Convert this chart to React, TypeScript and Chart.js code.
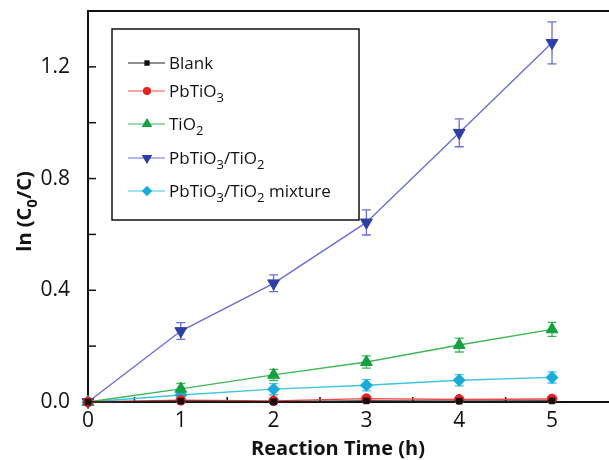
import React, { useEffect, useRef } from 'react';
import { Chart, registerables } from 'chart.js';
import { drawPoint } from 'chart.js/helpers';

Chart.register(...registerables);

// ---- data ----
const times = [0, 1, 2, 3, 4, 5];
const blankVals = [0, 0.003, 0.001, 0.004, 0.003, 0.004];
const pbtio3Vals = [0, 0.006, 0.004, 0.012, 0.009, 0.011];
const tio2Vals = [0, 0.047, 0.097, 0.143, 0.204, 0.26];
const compositeVals = [0, 0.254, 0.425, 0.643, 0.964, 1.286];
const mixtureVals = [0, 0.025, 0.046, 0.06, 0.078, 0.088];

const blankErr = [0, 0.003, 0.003, 0.003, 0.003, 0.003];
const pbtio3Err = [0, 0.005, 0.005, 0.006, 0.006, 0.006];
const tio2Err = [0, 0.02, 0.02, 0.022, 0.025, 0.025];
const compositeErr = [0, 0.03, 0.03, 0.045, 0.05, 0.075];
const mixtureErr = [0, 0.012, 0.02, 0.02, 0.02, 0.02];

// labels: "_d" marks a subscript character
const seriesLabels = ['Blank', 'PbTiO_3', 'TiO_2', 'PbTiO_3/TiO_2', 'PbTiO_3/TiO_2 mixture'];
const yTitle = 'ln (C_0/C)';
const xTitle = 'Reaction Time (h)';

const FONT = '"Open Sans", "DejaVu Sans", sans-serif';

function parseSegs(s: string) {
  const segs: { t: string; sub: boolean }[] = [];
  let buf = '';
  for (let i = 0; i < s.length; i++) {
    if (s[i] === '_' && i + 1 < s.length) {
      if (buf) segs.push({ t: buf, sub: false });
      buf = '';
      segs.push({ t: s[i + 1], sub: true });
      i++;
    } else buf += s[i];
  }
  if (buf) segs.push({ t: buf, sub: false });
  return segs;
}

function drawRich(ctx: CanvasRenderingContext2D, s: string, x: number, y: number, size: number, bold: boolean, align: 'left' | 'center') {
  const segs = parseSegs(s);
  const w = bold ? 'bold ' : '';
  const main = `${w}${size}px ${FONT}`;
  const sub = `${w}${Math.round(size * 0.75)}px ${FONT}`;
  let total = 0;
  segs.forEach(sg => { ctx.font = sg.sub ? sub : main; total += ctx.measureText(sg.t).width; });
  let cx = align === 'center' ? x - total / 2 : x;
  ctx.textAlign = 'left';
  ctx.textBaseline = 'alphabetic';
  segs.forEach(sg => {
    ctx.font = sg.sub ? sub : main;
    ctx.fillText(sg.t, cx, sg.sub ? y + size * 0.28 : y);
    cx += ctx.measureText(sg.t).width;
  });
}

const styles = [
  { line: '#222222', fill: '#111111', point: 'rect', r: 4, rot: 0, err: blankErr },
  { line: '#f04848', fill: '#e82222', point: 'circle', r: 4.8, rot: 0, err: pbtio3Err },
  { line: '#3cb856', fill: '#14a040', point: 'triangle', r: 6.8, rot: 0, err: tio2Err },
  { line: '#6c6cd8', fill: '#2e3ea4', point: 'triangle', r: 6.8, rot: 180, err: compositeErr },
  { line: '#3cc6e2', fill: '#18aad8', point: 'rectRot', r: 6, rot: 0, err: mixtureErr },
];
const seriesVals = [blankVals, pbtio3Vals, tio2Vals, compositeVals, mixtureVals];

const framePlugin = {
  id: 'framePlugin',
  beforeDatasetsDraw(chart: any) {
    const { ctx, width, chartArea: { left, top, bottom }, scales: { x, y } } = chart;
    ctx.save();
    ctx.strokeStyle = '#111';
    ctx.lineWidth = 1.5;
    y.ticks.forEach((t: any) => {
      const py = y.getPixelForValue(t.value);
      ctx.beginPath(); ctx.moveTo(left, py); ctx.lineTo(left + 8, py); ctx.stroke();
    });
    x.ticks.forEach((t: any) => {
      const px = x.getPixelForValue(t.value);
      const major = Math.abs(t.value - Math.round(t.value)) < 1e-6;
      ctx.beginPath(); ctx.moveTo(px, bottom); ctx.lineTo(px, bottom - (major ? 8 : 5)); ctx.stroke();
    });
    ctx.lineWidth = 2;
    ctx.beginPath();
    ctx.moveTo(width, top); ctx.lineTo(left, top); ctx.lineTo(left, bottom); ctx.lineTo(width, bottom);
    ctx.stroke();
    // error bars
    chart.data.datasets.forEach((ds: any, i: number) => {
      const st = styles[i];
      ctx.strokeStyle = st.line;
      ctx.lineWidth = 1.3;
      ds.data.forEach((p: any, j: number) => {
        const e = st.err[j];
        if (!e) return;
        const px = x.getPixelForValue(p.x);
        const p1 = y.getPixelForValue(p.y + e);
        const p2 = y.getPixelForValue(p.y - e);
        ctx.beginPath();
        ctx.moveTo(px, p1); ctx.lineTo(px, p2);
        ctx.moveTo(px - 4.5, p1); ctx.lineTo(px + 4.5, p1);
        ctx.moveTo(px - 4.5, p2); ctx.lineTo(px + 4.5, p2);
        ctx.stroke();
      });
    });
    ctx.restore();
  },
  afterDraw(chart: any) {
    const { ctx, chartArea: { left, top, bottom } } = chart;
    ctx.save();
    // legend
    const bx = left + 24, by = top + 18, bw = 247, bh = 191;
    ctx.strokeStyle = '#111';
    ctx.lineWidth = 1.5;
    ctx.strokeRect(bx, by, bw, bh);
    const rows = [34, 62, 95, 129, 162];
    seriesLabels.forEach((lab, i) => {
      const st = styles[i];
      const cy = by + rows[i];
      ctx.strokeStyle = st.line;
      ctx.lineWidth = 1.2;
      ctx.beginPath(); ctx.moveTo(bx + 16, cy); ctx.lineTo(bx + 53, cy); ctx.stroke();
      ctx.fillStyle = st.fill;
      ctx.strokeStyle = st.fill;
      drawPoint(ctx, { pointStyle: st.point, radius: st.r * 0.72, rotation: st.rot, borderWidth: 1 } as any, bx + 35, cy);
      ctx.fillStyle = '#111';
      drawRich(ctx, lab, bx + 57, cy + 6, 17, false, 'left');
    });
    // axis titles
    ctx.fillStyle = '#111';
    drawRich(ctx, xTitle, 338, 455, 20, true, 'center');
    ctx.save();
    ctx.translate(31, (top + bottom) / 2 + 5);
    ctx.rotate(-Math.PI / 2);
    drawRich(ctx, yTitle, 0, 0, 20, true, 'center');
    ctx.restore();
    ctx.restore();
  },
};

const onHalf = (v: number) => Math.abs(v * 2 - Math.round(v * 2)) < 1e-6;
const onFifth = (v: number) => Math.abs(v * 5 - Math.round(v * 5)) < 1e-6;

export default function App() {
  const ref = useRef<HTMLCanvasElement>(null);
  useEffect(() => {
    if (!ref.current) return;
    const chart = new Chart(ref.current, {
      type: 'line',
      data: {
        datasets: seriesVals.map((vals, i) => ({
          label: seriesLabels[i],
          data: times.map((t, j) => ({ x: t, y: vals[j] })),
          borderColor: styles[i].line,
          backgroundColor: styles[i].fill,
          pointBackgroundColor: styles[i].fill,
          pointBorderColor: styles[i].fill,
          pointStyle: styles[i].point as any,
          pointRotation: styles[i].rot,
          pointRadius: styles[i].r,
          pointBorderWidth: 1,
          borderWidth: 1.4,
          tension: 0,
          clip: false as any,
        })),
      },
      options: {
        responsive: false,
        animation: false,
        layout: { padding: { left: 0, right: 0, top: 11, bottom: 0 } },
        plugins: { legend: { display: false }, tooltip: { enabled: false } },
        scales: {
          x: {
            type: 'linear',
            min: 0,
            max: 5.53,
            afterBuildTicks: (s: any) => { s.ticks = s.ticks.filter((t: any) => onHalf(t.value)); },
            afterFit: (s: any) => { s.height = 58; s.paddingLeft = 0; s.paddingRight = 0; },
            ticks: {
              stepSize: 0.5,
              autoSkip: false,
              maxRotation: 0,
              padding: 6,
              color: '#111',
              font: { family: FONT, size: 21 },
              callback: (v: any) => (Math.abs(v - Math.round(v)) < 1e-6 ? String(Math.round(v)) : ''),
            },
            grid: { display: false, drawTicks: false },
            border: { display: false },
          },
          y: {
            type: 'linear',
            min: 0,
            max: 1.4,
            afterBuildTicks: (s: any) => { s.ticks = s.ticks.filter((t: any) => onFifth(t.value)); },
            afterFit: (s: any) => { s.width = 88; s.paddingTop = 0; s.paddingBottom = 0; },
            ticks: {
              stepSize: 0.2,
              autoSkip: false,
              padding: 18,
              color: '#111',
              font: { family: FONT, size: 21 },
              callback: (v: any) => (Math.round(v * 10) % 4 === 0 ? Number(v).toFixed(1) : ''),
            },
            grid: { display: false, drawTicks: false },
            border: { display: false },
          },
        },
      },
      plugins: [framePlugin],
    });
    return () => chart.destroy();
  }, []);
  return (
    <div style={{ position: 'fixed', left: 0, top: 0, width: 609, height: 460, background: '#fff' }}>
      <canvas ref={ref} width={609} height={460} />
    </div>
  );
}
